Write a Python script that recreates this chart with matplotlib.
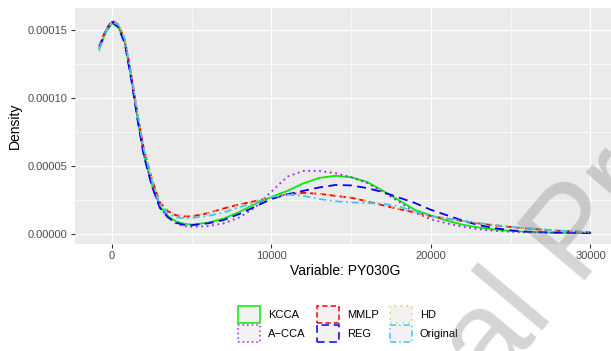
import numpy as np
import matplotlib
matplotlib.use('Agg')
import matplotlib.pyplot as plt
from matplotlib.patches import Patch

plt.rcParams['font.family'] = ['Liberation Sans', 'DejaVu Sans']

# ── data (density values, in units of 1e-5) ──
x_vals = [-800, -400, 0, 400, 800, 1200, 1600, 2000, 2500, 3000, 3500, 4000, 4500,
          5000, 6000, 7000, 8000, 9000, 10000, 11000, 12000, 13000, 14000, 15000,
          16000, 17000, 18000, 19000, 20000, 21000, 22000, 23000, 24000, 25000,
          26000, 27000, 28000, 29000, 30000]

kcca = [13.6, 14.8, 15.5, 15.2, 14.1, 11.5, 8.5, 5.8, 3.6, 2.0, 1.3, 0.9, 0.72,
        0.66, 0.8, 1.1, 1.6, 2.2, 2.7, 3.15, 3.7, 4.1, 4.26, 4.15,
        3.8, 3.15, 2.45, 1.75, 1.33, 0.95, 0.65, 0.45, 0.3, 0.2,
        0.13, 0.09, 0.06, 0.05, 0.04]
acca = [13.8, 14.9, 15.6, 15.3, 14.2, 11.6, 8.5, 5.8, 3.5, 1.9, 1.2, 0.75, 0.55,
        0.5, 0.55, 0.75, 1.2, 1.95, 3.1, 4.2, 4.62, 4.62, 4.45, 4.15,
        3.72, 3.05, 2.35, 1.55, 1.05, 0.75, 0.5, 0.32, 0.2, 0.13,
        0.09, 0.07, 0.05, 0.05, 0.04]
mmlp = [13.8, 15.0, 15.7, 15.4, 14.3, 11.8, 8.8, 6.2, 4.0, 2.3, 1.65, 1.35, 1.27,
        1.27, 1.5, 1.85, 2.15, 2.4, 2.65, 2.9, 3.0, 2.93, 2.78, 2.64,
        2.38, 2.08, 1.8, 1.55, 1.28, 1.1, 0.92, 0.75, 0.6, 0.48,
        0.38, 0.29, 0.21, 0.15, 0.1]
reg = [13.7, 14.9, 15.6, 15.2, 14.0, 11.4, 8.4, 5.7, 3.5, 1.9, 1.2, 0.8, 0.65,
       0.62, 0.75, 1.0, 1.45, 2.0, 2.55, 2.9, 3.15, 3.4, 3.58, 3.55,
       3.35, 3.05, 2.65, 2.25, 1.75, 1.35, 0.95, 0.62, 0.4, 0.24,
       0.14, 0.1, 0.07, 0.05, 0.04]
hd = [13.4, 14.8, 15.6, 15.4, 14.4, 11.9, 8.9, 6.3, 4.1, 2.35, 1.7, 1.4, 1.32,
      1.3, 1.5, 1.8, 2.1, 2.4, 2.65, 2.88, 2.98, 2.92, 2.8, 2.65,
      2.42, 2.12, 1.83, 1.57, 1.3, 1.12, 0.93, 0.77, 0.62, 0.5,
      0.4, 0.31, 0.23, 0.16, 0.11]
original = [13.6, 14.9, 15.6, 15.4, 14.3, 11.8, 8.8, 6.2, 3.9, 2.15, 1.5, 1.2, 1.13,
            1.15, 1.3, 1.55, 1.95, 2.3, 2.7, 2.87, 2.78, 2.55, 2.38, 2.3,
            2.25, 2.2, 2.0, 1.6, 1.3, 1.1, 0.93, 0.77, 0.63, 0.5,
            0.4, 0.3, 0.22, 0.16, 0.11]

labels = ['KCCA', 'A\u2212CCA', 'MMLP', 'REG', 'HD', 'Original']
series = [kcca, acca, mmlp, reg, hd, original]
colors = ['#00EE00', '#A020F0', '#FF0000', '#0000FF', '#EEC04A', '#3EC6F2']
styles = ['-', (0, (1, 2)), (0, (3.5, 2)), (0, (5, 3)), (0, (1, 3)), (0, (4, 2, 1, 2))]

# ── figure ──
fig = plt.figure(figsize=(6.11, 3.51), dpi=100)
ax = fig.add_axes([74.7/611, 1-244.3/351, (615-74.7)/611, (244.3-8.3)/351])
ax.set_facecolor('#EBEBEB')
for s in ax.spines.values():
    s.set_visible(False)

xs = np.array(x_vals)
for vals, c, ls in zip(series, colors, styles):
    ax.plot(xs, np.array(vals)*1e-5, color=c, ls=ls, lw=1.3, zorder=3)

ax.set_xlim(-2340, 31540)
ax.set_ylim(-7.9e-6, 1.66e-4)
ax.set_xticks([0, 10000, 20000, 30000])
ax.set_xticklabels(['0', '10000', '20000', '30000'])
ax.set_yticks([0, 5e-5, 1e-4, 1.5e-4])
ax.set_yticklabels(['0.00000', '0.00005', '0.00010', '0.00015'])
ax.set_xticks([5000, 15000, 25000], minor=True)
ax.set_yticks([2.5e-5, 7.5e-5, 1.25e-4], minor=True)
ax.grid(which='major', color='white', lw=1.0)
ax.grid(which='minor', color='white', lw=0.5)
ax.set_axisbelow(True)
ax.tick_params(which='major', length=3, width=0.8, color='#333333',
               labelcolor='#4D4D4D', labelsize=8, pad=2)
ax.tick_params(which='minor', length=0)
ax.set_xlabel('Variable: PY030G', fontsize=10, labelpad=2)
ax.set_ylabel('Density', fontsize=10, labelpad=4)

handles = [Patch(facecolor='#F2F2F2', edgecolor=c, linestyle=ls, lw=1.1)
           for c, ls in zip(colors, styles)]
fig.legend(handles, labels, loc='center', bbox_to_anchor=(0.57, 0.077), ncol=3,
           frameon=False, fontsize=8, handlelength=2.0, handleheight=1.9,
           handletextpad=0.7, columnspacing=1.0, labelspacing=0.2, borderpad=0)

# watermark
fig.text(286/611, 1-636/351, 'Journal Pre-proof', rotation=50, rotation_mode='anchor',
         ha='left', va='baseline', fontsize=92, color='gray', alpha=0.33, zorder=10)

fig.savefig('out.png', dpi=100)
